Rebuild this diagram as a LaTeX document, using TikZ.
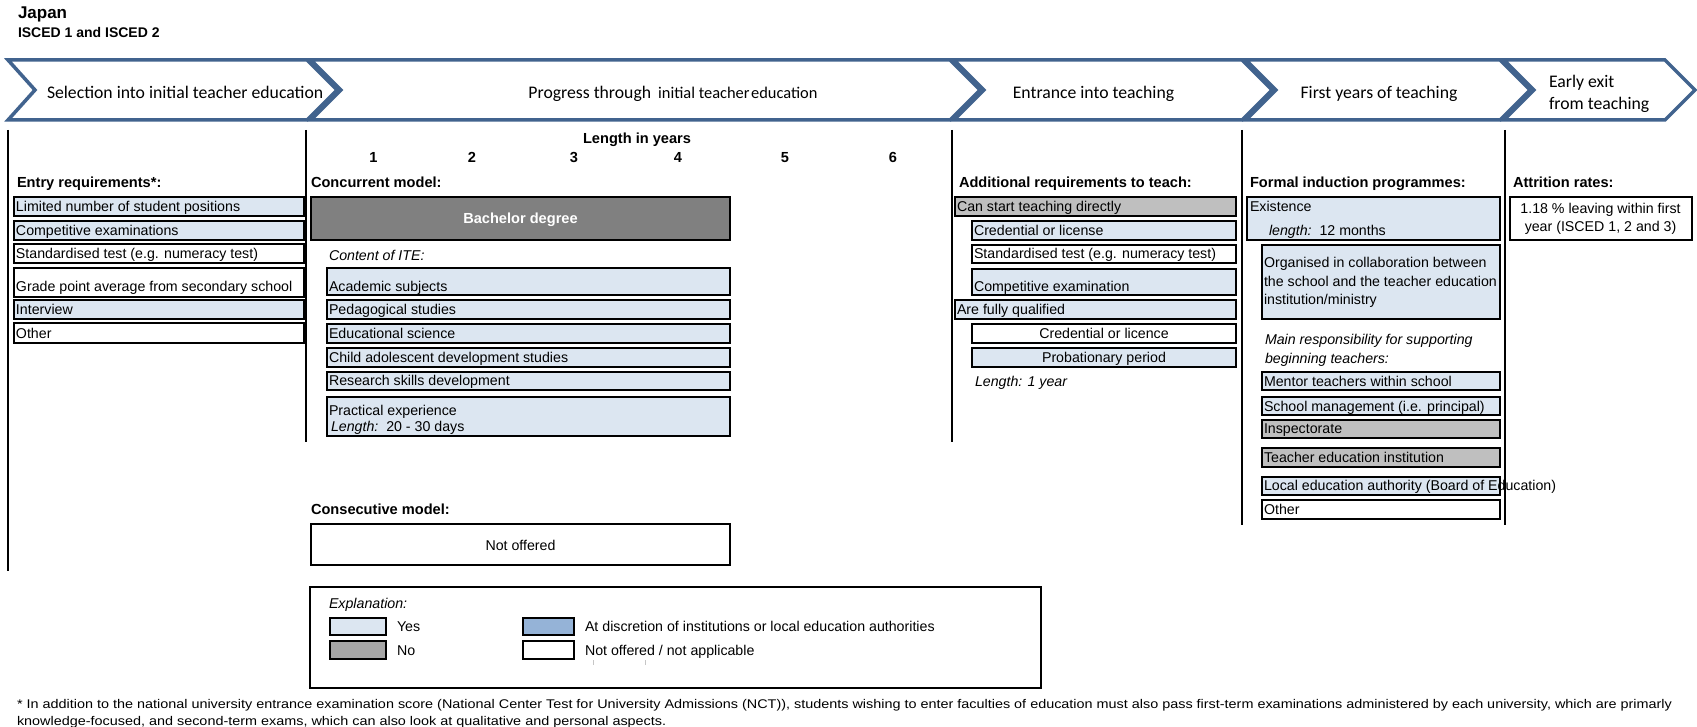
\documentclass[tikz,border=0pt]{standalone}
\usepackage{fontspec}
\setmainfont{Liberation Sans}
\newfontfamily\chevfont{Carlito}
\definecolor{lb}{HTML}{DCE6F1}
\definecolor{gb}{HTML}{BFBFBF}
\definecolor{nb}{HTML}{A6A6A6}
\definecolor{db}{HTML}{808080}
\definecolor{mb}{HTML}{95B3D7}
\definecolor{chev}{RGB}{65,99,142}
\newcommand\fbody{\fontsize{14.2}{17}\selectfont}
\newcommand\fhead{\bfseries\fontsize{14.6}{17}\selectfont}
\newcommand\fchev{\chevfont\fontsize{17.7}{21}\selectfont}
\newcommand\ffoot{\fontsize{12.6}{15}\selectfont}
\tikzset{
  txt/.style={inner sep=0pt, outer sep=0pt, anchor=base west, font=\fbody},
  head/.style={txt, font=\fhead},
  cell/.style={draw=black, line width=2pt, inner sep=0pt, outer sep=0pt, anchor=north west},
  sepline/.style={draw=black, line width=2pt},
  chevline/.style={draw=chev, line width=3.5pt, fill=white, line join=miter},
  chevtxt/.style={inner sep=0pt, outer sep=0pt, font=\fchev, text=black},
}
\newcommand\bx[6]{\node[cell, fill=#6, minimum width={(#4-#2)*1pt}, minimum height={(#5-#3)*1pt}] (#1) at (#2,#3) {};}
\newcommand\tx[5][]{\node[txt,#1] (#2) at (#3,#4) {#5};}
\begin{document}
\begin{tikzpicture}[x=1pt,y=-1pt]
\useasboundingbox (0,0) rectangle (1697,727);
\fill[white] (0,0) rectangle (1697,727);
% title
\node[txt, font=\bfseries\fontsize{17}{20}\selectfont] (japan) at (18,19) {Japan};
\node[txt, font=\bfseries\fontsize{14}{16}\selectfont] (isced) at (18,38) {ISCED 1 and ISCED 2};
% chevrons
\foreach \xl/\xr/\d in {8/307/27, 311/950/30, 954/1242/30, 1246/1500/30, 1504/1665/30} {
  \draw[chevline] (\xl,60) -- (\xr,60) -- (\xr+30,90) -- (\xr,120) -- (\xl,120) -- (\xl+\d,90) -- cycle;
}
\node[chevtxt, anchor=base west] (ch1) at (47,98.5) {Selection into initial teacher education};
\node[chevtxt, anchor=base] (ch2) at (673,98.5) {Progress through\hspace{0.4em}{\fontsize{16.4}{20}\selectfont initial teacher\hspace{0.1em}education}};
\node[chevtxt, anchor=base] (ch3) at (1093.5,98.5) {Entrance into teaching};
\node[chevtxt, anchor=base] (ch4) at (1379,98.5) {First years of teaching};
\node[chevtxt, anchor=base west] (ch5a) at (1549,87.5) {Early exit};
\node[chevtxt, anchor=base west] (ch5b) at (1549,109.5) {from teaching};
% separators
\draw[sepline] (7.5,130) -- (7.5,571);
\draw[sepline] (306,130) -- (306,442);
\draw[sepline] (952,130) -- (952,442);
\draw[sepline] (1242,130) -- (1242,525);
\draw[sepline] (1505,130) -- (1505,525);
% section 1
\node[head] (h1) at (17,188) {Entry requirements*:};
\bx{e1}{14}{197}{304}{216}{lb} \tx{e1t}{16}{211.5}{Limited number of student positions}
\bx{e2}{14}{221}{304}{240}{lb} \tx{e2t}{16}{235.5}{Competitive examinations}
\bx{e3}{14}{244}{304}{263}{white} \tx{e3t}{16}{258.5}{Standardised test (e.g. numeracy test)}
\bx{e4}{14}{268}{304}{297}{white} \tx{e4t}{16}{291.5}{Grade point average from secondary school}
\bx{e5}{14}{300}{304}{319}{lb} \tx{e5t}{16}{314.5}{Interview}
\bx{e6}{14}{323}{304}{343}{white} \tx{e6t}{16}{338}{Other}
% section 2
\node[head, anchor=base] (len) at (637,143.5) {Length in years};
\foreach \i/\x in {1/373.5,2/472,3/574,4/678,5/785,6/893} {
  \node[head, anchor=base] (yr\i) at (\x,163) {\i};
}
\node[head] (conc) at (311,188) {Concurrent model:};
\bx{bach}{311}{197}{730}{240}{db}
\node[head, anchor=base, text=white] (bacht) at (520.5,223.5) {Bachelor degree};
\tx[font=\fbody\itshape]{cite}{329}{261}{Content of ITE:}
\bx{c1}{327}{268}{730}{295}{lb} \tx{c1t}{329}{291.5}{Academic subjects}
\bx{c2}{327}{300}{730}{318.5}{lb} \tx{c2t}{329}{314.5}{Pedagogical studies}
\bx{c3}{327}{324}{730}{342.5}{lb} \tx{c3t}{329}{338.5}{Educational science}
\bx{c4}{327}{348}{730}{366.5}{lb} \tx{c4t}{329}{362}{Child adolescent development studies}
\bx{c5}{327}{372}{730}{390}{lb} \tx{c5t}{329}{385.5}{Research skills development}
\bx{c6}{327}{397}{730}{436}{lb} \tx{c6t}{329}{415.5}{Practical experience}
\tx{c6u}{331}{431.5}{\textit{Length:}\ \ 20 - 30 days}
\node[head] (consm) at (311,514.5) {Consecutive model:};
\bx{cons}{311}{523.5}{730}{564.5}{white}
\node[txt, anchor=base] (const) at (520.5,550) {Not offered};
% legend
\bx{expl}{310}{587}{1041}{688}{white}
\tx[font=\fbody\itshape]{explt}{329}{608}{Explanation:}
\bx{lgyes}{330}{618}{386}{635}{lb} \tx{lgyest}{397}{631.5}{Yes}
\bx{lgno}{330}{641}{386}{659}{nb} \tx{lgnot}{397}{655}{No}
\bx{lgdisc}{523}{618}{574}{635}{mb} \tx{lgdisct}{585}{631.5}{At discretion of institutions or local education authorities}
\bx{lgna}{523}{641}{574}{659}{white} \tx{lgnat}{585}{655}{Not offered / not applicable}
\draw[gray!45, line width=0.8pt] (593,660) -- (593,665);
\draw[gray!45, line width=0.8pt] (645,660) -- (645,665);
% section 3
\node[head] (h3) at (959,188) {Additional requirements to teach:};
\bx{a1}{955}{197}{1236}{216}{gb} \tx{a1t}{957}{211.5}{Can start teaching directly}
\bx{a2}{972}{221}{1236}{240}{lb} \tx{a2t}{974}{235.5}{Credential or license}
\bx{a3}{972}{245}{1236}{263.5}{white} \tx{a3t}{974}{259}{Standardised test (e.g. numeracy test)}
\bx{a4}{972}{269}{1236}{295}{lb} \tx{a4t}{974}{291}{Competitive examination}
\bx{a5}{955}{300}{1236}{319}{lb} \tx{a5t}{957}{314.5}{Are fully qualified}
\bx{a6}{972}{324}{1236}{342.5}{white} \node[txt, anchor=base] (a6t) at (1104,338.5) {Credential or licence};
\bx{a7}{972}{348}{1236}{366.5}{lb} \node[txt, anchor=base] (a7t) at (1104,362) {Probationary period};
\tx[font=\fbody\itshape]{a8t}{975}{386.5}{Length: 1 year}
% section 4
\node[head] (h4) at (1250,188) {Formal induction programmes:};
\bx{f1}{1247}{197}{1500}{240}{lb} \tx{f1t}{1250}{211.5}{Existence}
\tx{f1u}{1269}{236}{\textit{length:}\ \ 12 months}
\bx{f2}{1262}{245}{1500}{318.5}{lb}
\tx{f2a}{1264}{268}{Organised in collaboration between}
\tx{f2b}{1264}{287}{the school and the teacher education}
\tx{f2c}{1264}{305}{institution/ministry}
\tx[font=\fbody\itshape]{f3a}{1265}{344}{Main responsibility for supporting}
\tx[font=\fbody\itshape]{f3b}{1265}{363}{beginning teachers:}
\bx{f4}{1262}{372}{1500}{390}{lb} \tx{f4t}{1264}{386}{Mentor teachers within school}
\bx{f5}{1262}{397}{1500}{415}{lb} \tx{f5t}{1264}{411.5}{School management (i.e. principal)}
\bx{f6}{1262}{419.5}{1500}{437.5}{gb} \tx{f6t}{1264}{433}{Inspectorate}
\bx{f7}{1262}{447.5}{1500}{466.5}{gb} \tx{f7t}{1264}{462}{Teacher education institution}
\bx{f8}{1262}{477}{1500}{495}{lb} \tx{f8t}{1264}{490.5}{Local education authority (Board of Education)}
\bx{f9}{1262}{499.5}{1500}{519}{white} \tx{f9t}{1264}{514}{Other}
% section 5
\node[head] (h5) at (1513,188) {Attrition rates:};
\bx{at}{1509.5}{197}{1691.5}{240}{white}
\node[txt, anchor=base] (at1) at (1600.5,214) {1.18 \% leaving within first};
\node[txt, anchor=base] (at2) at (1600.5,232) {year (ISCED 1, 2 and 3)};
% footnote
\node[txt, font=\ffoot] (fn1) at (17,708.3) {\scalebox{1.143}[1]{* In addition to the national university entrance examination score (National Center Test for University Admissions (NCT)), students wishing to enter faculties of education must also pass first-term examinations administered by each university, which are primarly}};
\node[txt, font=\ffoot] (fn2) at (17,725.7) {\scalebox{1.143}[1]{knowledge-focused, and second-term exams, which can also look at qualitative and personal aspects.}};
\end{tikzpicture}
\end{document}
